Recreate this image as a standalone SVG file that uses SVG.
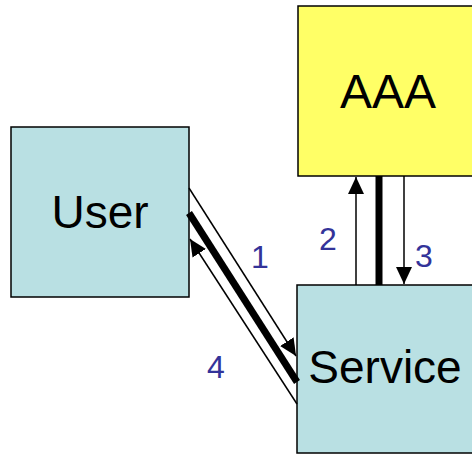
<svg xmlns="http://www.w3.org/2000/svg" width="472" height="455" viewBox="0 0 472 455">
<style>
.box{stroke:#000;stroke-width:1.5}
.teal{fill:#b9e0e3}
.yel{fill:#ffff66}
.name{font-family:"Liberation Sans",Arial,sans-serif;fill:#000;text-anchor:middle}
.num{font-family:"Liberation Sans",Arial,sans-serif;fill:#333399;font-size:32px;text-anchor:middle}
.thin{stroke:#000;stroke-width:1.5;fill:none}
.thick{stroke:#000;stroke-width:7;fill:none}
</style>
<defs>
<marker id="ah" markerUnits="userSpaceOnUse" markerWidth="17" markerHeight="16" refX="17" refY="8" orient="auto" viewBox="0 0 17 16">
<path d="M0,0 L17,8 L0,16 z" fill="#000"/>
</marker>
</defs>
<rect width="472" height="455" fill="#fff"/>
<g id="user">
<rect class="box teal" x="11" y="127" width="178" height="170"/>
<text class="name" x="100" y="228" font-size="46">User</text>
</g>
<g id="aaa">
<rect class="box yel" x="298" y="6" width="180" height="170"/>
<text class="name" x="388" y="108" font-size="48">AAA</text>
</g>
<g id="service">
<rect class="box teal" x="297" y="285" width="180" height="168"/>
<text class="name" x="385" y="383" font-size="46">Service</text>
</g>
<g id="connectors">
<line class="thin" x1="356" y1="285" x2="356" y2="177" marker-end="url(#ah)"/>
<line class="thick" x1="379" y1="176" x2="379" y2="285"/>
<line class="thin" x1="404" y1="176" x2="404" y2="284" marker-end="url(#ah)"/>
<line class="thin" x1="189" y1="188" x2="296" y2="356" marker-end="url(#ah)"/>
<line class="thick" x1="189" y1="213" x2="297" y2="382"/>
<line class="thin" x1="297" y1="404" x2="190" y2="239" marker-end="url(#ah)"/>
<text class="num" x="328" y="250">2</text>
<text class="num" x="424" y="267">3</text>
<text class="num" x="260" y="268">1</text>
<text class="num" x="216" y="378">4</text>
</g>
</svg>
